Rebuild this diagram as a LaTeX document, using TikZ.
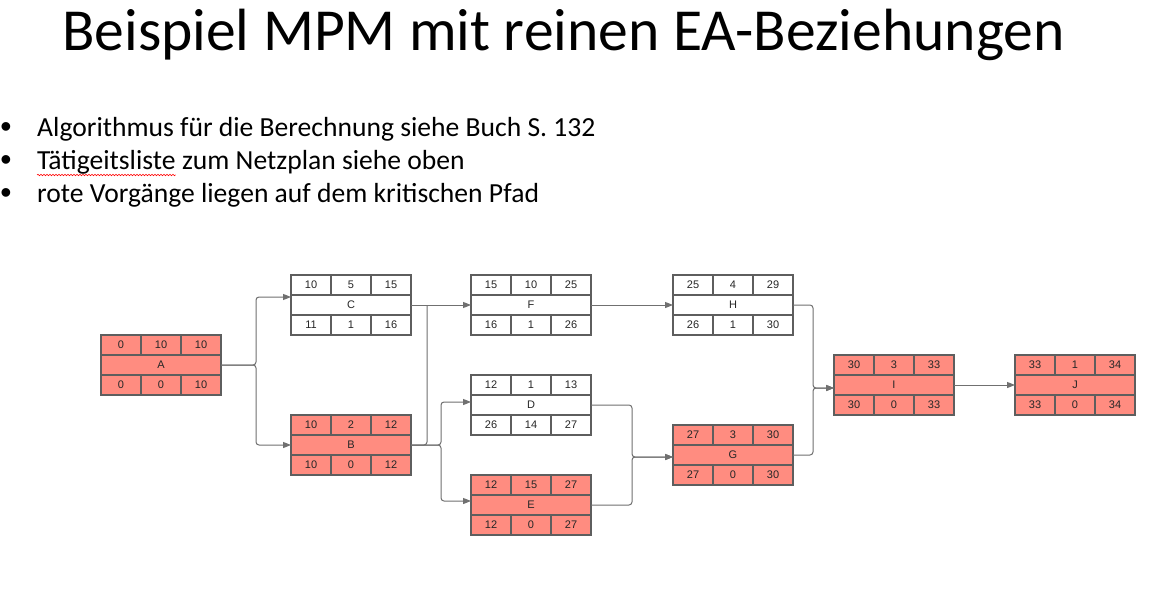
\documentclass[tikz,border=0pt]{standalone}
\usepackage{fontspec}
\setmainfont{Carlito}
\newfontfamily\cellfont{Liberation Sans}
\usetikzlibrary{arrows.meta,calc,decorations.pathmorphing}
\definecolor{crit}{HTML}{FF8C80}
\definecolor{edgecol}{HTML}{5E5E5E}
\definecolor{conncol}{HTML}{707070}
\tikzset{
  cell/.style={draw=edgecol,line width=1.2pt,inner sep=0pt,outer sep=0pt,minimum height=20pt,
    font=\cellfont\fontsize{11}{12}\selectfont,text=black!85},
  smallcell/.style={cell,minimum width=40pt},
  widecell/.style={cell,minimum width=120pt},
  critical/.style={fill=crit},
  normal/.style={fill=white},
  conn/.style={draw=conncol,line width=1pt,rounded corners=3pt,-{Triangle[length=8pt,width=6pt]}},
  plainconn/.style={draw=conncol,line width=1pt,rounded corners=3pt},
  bullettext/.style={anchor=base west,inner sep=0pt,font=\fontsize{27.6}{30}\selectfont},
  bulletdot/.style={anchor=base,inner sep=0pt,font=\cellfont\fontsize{32}{34}\selectfont},
}
\newcommand\mpmbox[6]{%
  \node[widecell,#3] (#1) at (#2) {#5};
  \foreach \v [count=\i] in {#4} \node[smallcell,#3] (#1-t\i) at ($(#1)+(\i*40-80,-20)$) {\v};
  \foreach \v [count=\i] in {#6} \node[smallcell,#3] (#1-b\i) at ($(#1)+(\i*40-80,20)$) {\v};
}
\begin{document}
\begin{tikzpicture}[x=1pt,y=-1pt]
\useasboundingbox[fill=white] (0,0) rectangle (1160,591);

\node[anchor=base,inner sep=0pt,font=\fontsize{59.6}{62}\selectfont] (title) at (563.5,51) {Beispiel MPM mit reinen EA-Beziehungen};

\node[bulletdot] (d1) at (6,138) {•};
\node[bullettext] (l1) at (37,137) {Algorithmus für die Berechnung siehe Buch S.~132};
\node[bulletdot] (d2) at (6,171) {•};
\node[bullettext] (l2a) at (37,170) {Tätigeitsliste};
\node[bullettext] (l2b) at (l2a.base east) {\ zum Netzplan siehe oben};
\node[bulletdot] (d3) at (6,204) {•};
\node[bullettext] (l3) at (37,203) {rote Vorgänge liegen auf dem kritischen Pfad};
\draw[red,line width=0.6pt,decorate,decoration={snake,amplitude=0.7pt,segment length=3pt}]
  ([yshift=-5pt]l2a.base west) -- ([yshift=-5pt]l2a.base east);

\mpmbox{A}{161,365}{critical}{0,10,10}{A}{0,0,10}
\mpmbox{C}{351,305}{normal}{10,5,15}{C}{11,1,16}
\mpmbox{B}{351,445}{critical}{10,2,12}{B}{10,0,12}
\mpmbox{F}{531,305}{normal}{15,10,25}{F}{16,1,26}
\mpmbox{D}{531,405}{normal}{12,1,13}{D}{26,14,27}
\mpmbox{E}{531,505}{critical}{12,15,27}{E}{12,0,27}
\mpmbox{H}{733,305}{normal}{25,4,29}{H}{26,1,30}
\mpmbox{G}{733,455}{critical}{27,3,30}{G}{27,0,30}
\mpmbox{I}{894,385}{critical}{30,3,33}{I}{30,0,33}
\mpmbox{J}{1075,385}{critical}{33,1,34}{J}{33,0,34}

\coordinate (jA) at (256,365);
\draw[conn] (A.east) -- (jA) |- ([yshift=8pt]C.west);
\draw[conn] (A.east) -- (jA) |- (B.west);

\coordinate (jCF) at (427,305);
\draw[conn] (C.east) -- (F.west);
\draw[plainconn] (B.east) -| (jCF);

\coordinate (jB) at (441,445);
\draw[conn] (B.east) -- (jB) |- ([yshift=3pt]D.west);
\draw[conn] (B.east) -- (jB) |- ([yshift=4pt]E.west);

\coordinate (jG) at (632,457);
\draw[conn] (D.east) -| (jG) -- ([yshift=-2pt]G.west);
\draw[conn] (E.east) -| (jG) -- ([yshift=-2pt]G.west);

\draw[conn] (F.east) -- (H.west);

\coordinate (jI) at (813,388);
\draw[conn] (H.east) -| (jI) -- ([yshift=-3pt]I.west);
\draw[conn] (G.east) -| (jI) -- ([yshift=-3pt]I.west);

\draw[conn] (I.east) -- (J.west);
\end{tikzpicture}
\end{document}
